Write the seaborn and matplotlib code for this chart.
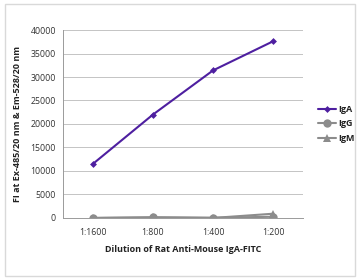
import matplotlib
matplotlib.use("Agg")
import matplotlib.pyplot as plt
import seaborn as sns
import pandas as pd

dilutions = ["1:1600", "1:800", "1:400", "1:200"]
iga = [11500, 22000, 31400, 37600]
igg = [0, 150, 50, 250]
igm = [0, 100, 0, 900]
yticks = [0, 5000, 10000, 15000, 20000, 25000, 30000, 35000, 40000]

rows = []
for name, vals in [("IgA", iga), ("IgG", igg), ("IgM", igm)]:
    for d, v in zip(dilutions, vals):
        rows.append({"Dilution": d, "Value": v, "Series": name})
df = pd.DataFrame(rows)

sns.set_theme(style="white")
plt.rcParams['font.family'] = ['Open Sans', 'DejaVu Sans']

fig = plt.figure(figsize=(3.57, 2.78), dpi=100)
ax = fig.add_axes([0.176, 0.216, 0.673, 0.676])

palette = {"IgA": "#4E1FA0", "IgG": "#8C8C8C", "IgM": "#8C8C8C"}
markers = {"IgA": "D", "IgG": "o", "IgM": "^"}
sizes = {"IgA": 3.5, "IgG": 6, "IgM": 6}
for name in ["IgM", "IgG", "IgA"]:
    sub = df[df["Series"] == name]
    sns.lineplot(data=sub, x="Dilution", y="Value", ax=ax, color=palette[name],
                 marker=markers[name], markersize=sizes[name], linewidth=1.5,
                 markeredgewidth=0, label=name, sort=False)

ax.set_xlim(-0.5, 3.5)
ax.set_ylim(0, 40000)
ax.set_yticks(yticks)
ax.set_yticklabels([str(t) for t in yticks])
ax.yaxis.grid(True, color="#C4C4C4", linewidth=0.7)
ax.set_axisbelow(True)
for s in ["top", "right"]:
    ax.spines[s].set_visible(False)
ax.spines["left"].set_color("#9A9A9A")
ax.spines["bottom"].set_color("#9A9A9A")
ax.spines["left"].set_linewidth(0.7)
ax.spines["bottom"].set_linewidth(0.7)
ax.tick_params(axis="y", labelsize=6.3, colors="#333333", length=0, pad=5)
ax.tick_params(axis="x", labelsize=6.3, colors="#333333", length=0, pad=7)
ax.set_xlabel("Dilution of Rat Anti-Mouse IgA-FITC", fontsize=6.5, fontweight="bold", color="#222222", labelpad=6)
ax.set_ylabel("FI at Ex-485/20 nm & Em-528/20 nm", fontsize=6.5, fontweight="bold", color="#222222", labelpad=6)

handles, labels = ax.get_legend_handles_labels()
order = [labels.index(n) for n in ["IgA", "IgG", "IgM"]]
leg = ax.legend([handles[i] for i in order], [labels[i] for i in order],
          loc="center left", bbox_to_anchor=(1.03, 0.5), frameon=False,
          handlelength=2.0, handletextpad=0.2, labelspacing=0.6,
          prop={"weight": "bold", "size": 6.5})
for t in leg.get_texts():
    t.set_color("#222222")

fig.patches.append(plt.Rectangle((0.014, 0.007), 0.98, 0.978, transform=fig.transFigure,
                                 fill=False, edgecolor="#D9D9D9", linewidth=1))
fig.savefig("out.png", dpi=100)
